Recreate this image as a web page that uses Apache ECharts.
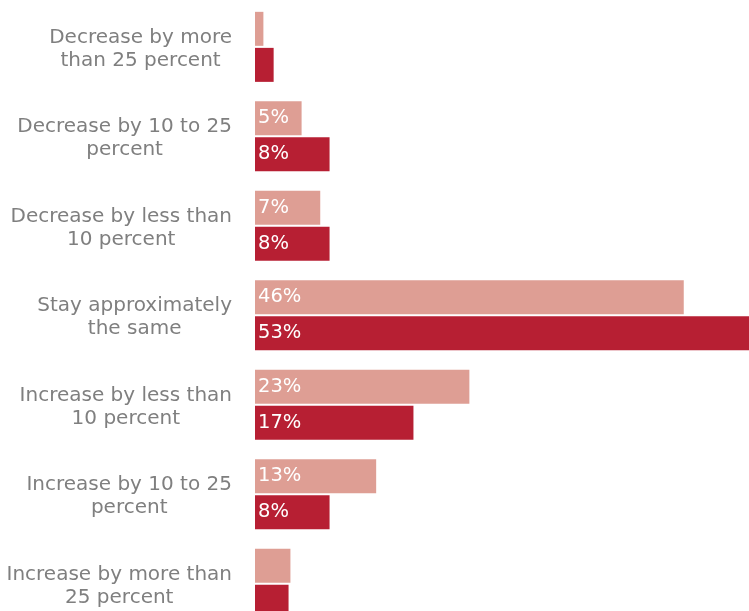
<!DOCTYPE html>
<html>
<head>
<meta charset="utf-8">
<script src="https://cdn.jsdelivr.net/npm/echarts@6/dist/echarts.min.js"></script>
<style>
  html, body { margin: 0; padding: 0; background: #ffffff; }
  #chart { width: 749px; height: 611px; }
</style>
</head>
<body>
<div id="chart"></div>
<script>
// Expected change in revenue: answer categories, top to bottom
const categories = [
  'Decrease by more\nthan 25 percent',
  'Decrease by 10 to 25\npercent',
  'Decrease by less than\n10 percent',
  'Stay approximately\nthe same',
  'Increase by less than\n10 percent',
  'Increase by 10 to 25\npercent',
  'Increase by more than\n25 percent'
];

// Share of respondents (%), earlier wave (light) and latest wave (dark)
const earlierShare = [0.9, 5, 7, 46, 23, 13, 3.8];
const latestShare  = [2, 8, 8, 53, 17, 8, 3.6];

const LIGHT = '#de9e94';
const DARK = '#b71f33';
const FONT = '"DejaVu Sans", sans-serif';

const chart = echarts.init(document.getElementById('chart'), null, { renderer: 'canvas' });

function barLabel() {
  return {
    show: true,
    position: 'insideLeft',
    distance: 3,
    color: '#ffffff',
    fontFamily: FONT,
    fontSize: 19.5,
    padding: [2, 0, 0, 0],
    formatter: p => (p.value >= 5 ? p.value + '%' : '')
  };
}

chart.setOption({
  animation: false,
  backgroundColor: '#ffffff',
  grid: {
    left: 255, right: 0, top: 2.1, height: 626.5,
    containLabel: false,
    outerBoundsMode: 'none'
  },
  xAxis: {
    type: 'value',
    min: 0,
    max: 53,
    show: false
  },
  yAxis: {
    type: 'category',
    data: categories,
    inverse: true,
    axisLine: { show: false },
    axisTick: { show: false },
    splitLine: { show: false },
    axisLabel: {
      margin: 23,
      color: '#7f7f7f',
      fontFamily: FONT,
      fontSize: 20,
      lineHeight: 23,
      padding: [4, 0, 0, 0],
      formatter: v => v.split('\n').map(line => '{c|' + line + '}').join('\n'),
      rich: {
        c: {
          align: 'center',
          color: '#7f7f7f',
          fontFamily: FONT,
          fontSize: 20,
          lineHeight: 23
        }
      }
    }
  },
  series: [
    {
      name: 'Earlier',
      type: 'bar',
      data: earlierShare,
      barWidth: 34,
      barGap: '6%',
      itemStyle: { color: LIGHT },
      label: barLabel()
    },
    {
      name: 'Latest',
      type: 'bar',
      data: latestShare,
      barWidth: 34,
      barGap: '6%',
      itemStyle: { color: DARK },
      label: barLabel()
    }
  ]
});
</script>
</body>
</html>
